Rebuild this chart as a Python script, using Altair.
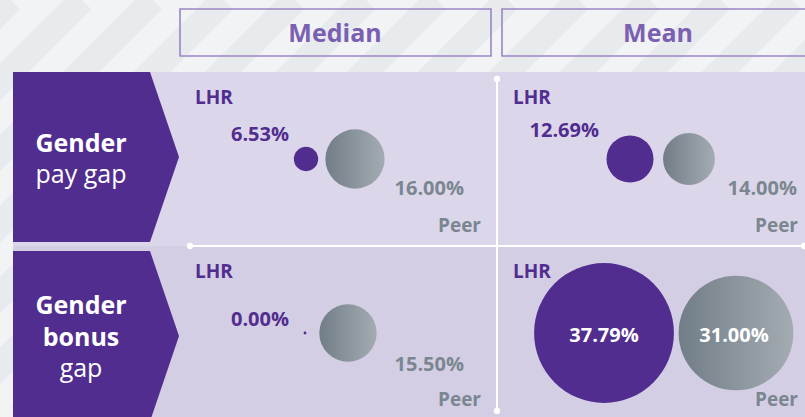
import altair as alt
import pandas as pd

# ---------------- data ----------------
gap_types = ["Gender pay gap", "Gender pay gap", "Gender pay gap", "Gender pay gap",
             "Gender bonus gap", "Gender bonus gap", "Gender bonus gap", "Gender bonus gap"]
measures = ["Median", "Median", "Mean", "Mean", "Median", "Median", "Mean", "Mean"]
groups = ["LHR", "Peer", "LHR", "Peer", "LHR", "Peer", "LHR", "Peer"]
values = [6.53, 16.00, 12.69, 14.00, 0.00, 15.50, 37.79, 31.00]
column_headers = ["Median", "Mean"]
row_titles = {
    "Gender pay gap": [("Gender", "bold"), ("pay gap", "normal")],
    "Gender bonus gap": [("Gender", "bold"), ("bonus", "bold"), ("gap", "normal")],
}

# ---------------- layout (pixel space) ----------------
W, H = 805, 417
PURPLE = "#512d8f"
GREY_TXT = "#7b8790"
HEAD_TXT = "#7b60b1"
HEAD_BORDER = "#9a86c4"
FONT = "Open Sans"

row_top = {"Gender pay gap": 72, "Gender bonus gap": 246}
row_cy = {"Gender pay gap": 159, "Gender bonus gap": 333}
col_left = {"Median": 195, "Mean": 513}
bubble_cx = {
    ("Gender pay gap", "Median", "LHR"): 306, ("Gender pay gap", "Median", "Peer"): 355,
    ("Gender pay gap", "Mean", "LHR"): 630, ("Gender pay gap", "Mean", "Peer"): 689,
    ("Gender bonus gap", "Median", "LHR"): 305, ("Gender bonus gap", "Median", "Peer"): 348,
    ("Gender bonus gap", "Mean", "LHR"): 604, ("Gender bonus gap", "Mean", "Peer"): 736,
}
# value label anchor: (x, baseline y, align)
label_pos = {
    ("Gender pay gap", "Median", "LHR"): (289, 141, "right"),
    ("Gender pay gap", "Median", "Peer"): (464, 195, "right"),
    ("Gender pay gap", "Mean", "LHR"): (599, 137, "right"),
    ("Gender pay gap", "Mean", "Peer"): (797, 195, "right"),
    ("Gender bonus gap", "Median", "LHR"): (289, 326, "right"),
    ("Gender bonus gap", "Median", "Peer"): (464, 371, "right"),
    ("Gender bonus gap", "Mean", "LHR"): (604, 342, "center"),
    ("Gender bonus gap", "Mean", "Peer"): (734, 342, "center"),
}

df = pd.DataFrame({"gap": gap_types, "measure": measures, "group": groups, "value": values})
df["x"] = [bubble_cx[(g, m, k)] for g, m, k in zip(df.gap, df.measure, df.group)]
df["y"] = [row_cy[g] for g in df.gap]
df["label"] = [f"{v:.2f}%" for v in df.value]
df["lx"] = [label_pos[(g, m, k)][0] for g, m, k in zip(df.gap, df.measure, df.group)]
df["ly"] = [label_pos[(g, m, k)][1] for g, m, k in zip(df.gap, df.measure, df.group)]
df["inside"] = [label_pos[(g, m, k)][2] == "center" for g, m, k in zip(df.gap, df.measure, df.group)]

xs = alt.Scale(domain=[0, W], nice=False, zero=False)
ys = alt.Scale(domain=[0, H], nice=False, zero=False, reverse=True)


def X(f="x"):
    return alt.X(f"{f}:Q", scale=xs, axis=None)


def Y(f="y"):
    return alt.Y(f"{f}:Q", scale=ys, axis=None)


# background stripes
stripe_c = list(range(-60, W + H + 80, 71))
stripes = pd.DataFrame({"x": stripe_c, "y": [0] * len(stripe_c),
                        "x2": [c - H for c in stripe_c], "y2": [H] * len(stripe_c)})
stripe_layer = alt.Chart(stripes).mark_rule(strokeWidth=26, color="#e8ebee", clip=True).encode(
    x=X(), y=Y(), x2="x2:Q", y2="y2:Q")

# header boxes
hdr = pd.DataFrame({"name": column_headers, "x": [180, 502], "x2": [491, 815],
                    "y": [9, 9], "y2": [56, 56], "tx": [335, 658], "ty": [42, 42]})
hdr_box = alt.Chart(hdr).mark_rect(fillOpacity=0, stroke=HEAD_BORDER, strokeWidth=1.6, clip=True).encode(
    x=X(), x2="x2:Q", y=Y(), y2="y2:Q")
hdr_txt = alt.Chart(hdr).mark_text(font=FONT, fontSize=25, fontWeight="bold", color=HEAD_TXT,
                                   align="center", baseline="alphabetic").encode(
    x=X("tx"), y=Y("ty"), text="name:N")

# lavender panels
panels = pd.DataFrame({"x": [13, 13], "x2": [W, W], "y": [72, 246], "y2": [246, H],
                       "c": ["#dcd6ea", "#d4cee4"]})
panel_layer = alt.Chart(panels).mark_rect().encode(
    x=X(), x2="x2:Q", y=Y(), y2="y2:Q", color=alt.Color("c:N", scale=None))

# purple chevrons
chev = pd.DataFrame({
    "row": ["pay"] * 3 + ["bonus"] * 3,
    "y": [72, 157, 242, 251, 336, 417],
    "x": [150, 179, 150, 150, 179, 151.5],
    "x2": [13] * 6,
})
chev_layer = alt.Chart(chev).mark_area(orient="horizontal", color=PURPLE).encode(
    y=Y(), x=X(), x2="x2:Q", detail="row:N")

# white divider lines with end dots
lines = pd.DataFrame({"x": [497, 190], "x2": [497, 804], "y": [79, 246], "y2": [411, 246]})
line_layer = alt.Chart(lines).mark_rule(color="white", strokeWidth=2).encode(
    x=X(), x2="x2:Q", y=Y(), y2="y2:Q")
dots = pd.DataFrame({"x": [497, 497, 190, 804], "y": [79, 411, 246, 246]})
dot_layer = alt.Chart(dots).mark_circle(color="white", opacity=1, size=40).encode(x=X(), y=Y())

# row titles
rt_rows = []
baselines = {"Gender pay gap": [152, 183], "Gender bonus gap": [314, 346, 377]}
for g, lines_ in row_titles.items():
    for (txt, wt), by in zip(lines_, baselines[g]):
        rt_rows.append({"t": txt, "w": wt, "x": 81, "y": by})
rt = pd.DataFrame(rt_rows)
rt_bold = alt.Chart(rt[rt.w == "bold"]).mark_text(font=FONT, fontSize=25, fontWeight="bold", color="white",
                                                   align="center", baseline="alphabetic").encode(
    x=X(), y=Y(), text="t:N")
rt_norm = alt.Chart(rt[rt.w == "normal"]).mark_text(font=FONT, fontSize=25, fontWeight="normal", color="white",
                                                     align="center", baseline="alphabetic").encode(
    x=X(), y=Y(), text="t:N")

# bubbles
size_scale = alt.Scale(type="pow", exponent=2, domain=[0, 40], range=[8, 21904])
peer_grad = alt.LinearGradient(gradient="linear",
                               stops=[alt.GradientStop(offset=0, color="#717d87"),
                                      alt.GradientStop(offset=1, color="#a4acb2")],
                               x1=0, x2=1, y1=0, y2=0)
lhr_bub = alt.Chart(df[df.group == "LHR"]).mark_circle(color=PURPLE, opacity=1).encode(
    x=X(), y=Y(), size=alt.Size("value:Q", scale=size_scale, legend=None))
peer_bub = alt.Chart(df[df.group == "Peer"]).mark_point(filled=True, shape="circle", fill=peer_grad,
                                                         opacity=1, strokeWidth=0).encode(
    x=X(), y=Y(), size=alt.Size("value:Q", scale=size_scale, legend=None))

# value labels
lhr_out = alt.Chart(df[(df.group == "LHR") & (~df.inside)]).mark_text(
    font=FONT, fontSize=20, fontWeight="bold", color=PURPLE, align="right", baseline="alphabetic").encode(
    x=X("lx"), y=Y("ly"), text="label:N")
peer_out = alt.Chart(df[(df.group == "Peer") & (~df.inside)]).mark_text(
    font=FONT, fontSize=20, fontWeight="bold", color=GREY_TXT, align="right", baseline="alphabetic").encode(
    x=X("lx"), y=Y("ly"), text="label:N")
inside = alt.Chart(df[df.inside]).mark_text(
    font=FONT, fontSize=20, fontWeight="bold", color="white", align="center", baseline="alphabetic").encode(
    x=X("lx"), y=Y("ly"), text="label:N")

# LHR / Peer tags
tags = []
for g in row_top:
    for m in column_headers:
        tags.append({"t": "LHR", "x": col_left[m], "y": 104 if g == "Gender pay gap" else 278,
                     "k": "LHR"})
        tags.append({"t": "Peer", "x": 481 if m == "Median" else 798,
                     "y": 232 if g == "Gender pay gap" else 406, "k": "Peer"})
tags = pd.DataFrame(tags)
lhr_tag = alt.Chart(tags[tags.k == "LHR"]).mark_text(
    font=FONT, fontSize=19, fontWeight="bold", color=PURPLE, align="left", baseline="alphabetic").encode(
    x=X(), y=Y(), text="t:N")
peer_tag = alt.Chart(tags[tags.k == "Peer"]).mark_text(
    font=FONT, fontSize=19, fontWeight="bold", color=GREY_TXT, align="right", baseline="alphabetic").encode(
    x=X(), y=Y(), text="t:N")

chart = alt.layer(
    stripe_layer, hdr_box, hdr_txt, panel_layer, chev_layer, line_layer, dot_layer,
    rt_bold, rt_norm, lhr_bub, peer_bub, lhr_out, peer_out, inside, lhr_tag, peer_tag,
).properties(
    width=W, height=H, padding=0, autosize=alt.AutoSizeParams(type="none"), background="#f2f3f5"
).configure_view(stroke=None)

chart.save("out.html", embed_options={"renderer": "svg", "actions": False})
